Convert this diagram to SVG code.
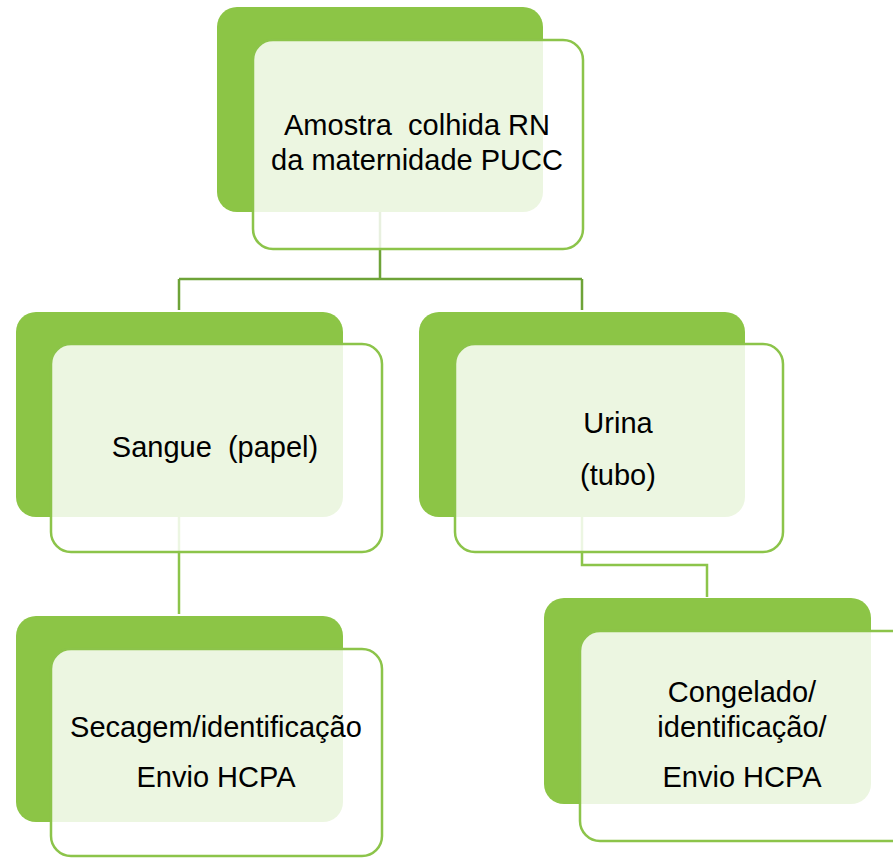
<svg xmlns="http://www.w3.org/2000/svg" width="893" height="858" viewBox="0 0 893 858">
<style>
.back{fill:#8cc546;}
.front{fill:#ffffff;fill-opacity:0.84;stroke:#8cc44a;stroke-width:2.5;}
.lbl{font-family:"Liberation Sans",Arial,sans-serif;font-size:29px;fill:#000;text-anchor:middle;}
.c1{fill:none;stroke:#6ea338;stroke-width:2.5;}
.c2{fill:none;stroke:#8cc44a;stroke-width:2.5;}
</style>
<rect width="893" height="858" fill="#ffffff"/>
<g id="connectors">
<path class="c1" d="M380,200 V279 M179,279 H582 M179,279 V310 M582,279 V310"/>
<path class="c2" d="M179,500 V614"/>
<path class="c2" d="M582,500 V565 H707 V597"/>
</g>
<g id="node-amostra">
<rect class="back" x="217" y="7" width="326" height="205" rx="20"/>
<rect class="front" x="253" y="40" width="330" height="209" rx="20"/>
<text class="lbl" xml:space="preserve" x="417" y="135">Amostra  colhida RN</text>
<text class="lbl" x="417" y="170">da maternidade PUCC</text>
</g>
<g id="node-sangue">
<rect class="back" x="16" y="312" width="327" height="205" rx="20"/>
<rect class="front" x="51" y="344" width="331" height="208" rx="20"/>
<text class="lbl" xml:space="preserve" x="215" y="457">Sangue  (papel)</text>
</g>
<g id="node-urina">
<rect class="back" x="419" y="312" width="326" height="205" rx="20"/>
<rect class="front" x="455" y="344" width="328" height="208" rx="20"/>
<text class="lbl" x="618" y="433">Urina</text>
<text class="lbl" x="618" y="485">(tubo)</text>
</g>
<g id="node-secagem">
<rect class="back" x="16" y="616" width="327" height="206" rx="20"/>
<rect class="front" x="51" y="649" width="331" height="207" rx="20"/>
<text class="lbl" x="216" y="737">Secagem/identificação</text>
<text class="lbl" x="216" y="787">Envio HCPA</text>
</g>
<g id="node-congelado">
<rect class="back" x="544" y="598" width="327" height="206" rx="20"/>
<rect class="front" x="580" y="631" width="331" height="210" rx="20"/>
<text class="lbl" x="742" y="702">Congelado/</text>
<text class="lbl" x="742" y="737">identificação/</text>
<text class="lbl" x="742" y="787">Envio HCPA</text>
</g>
</svg>
